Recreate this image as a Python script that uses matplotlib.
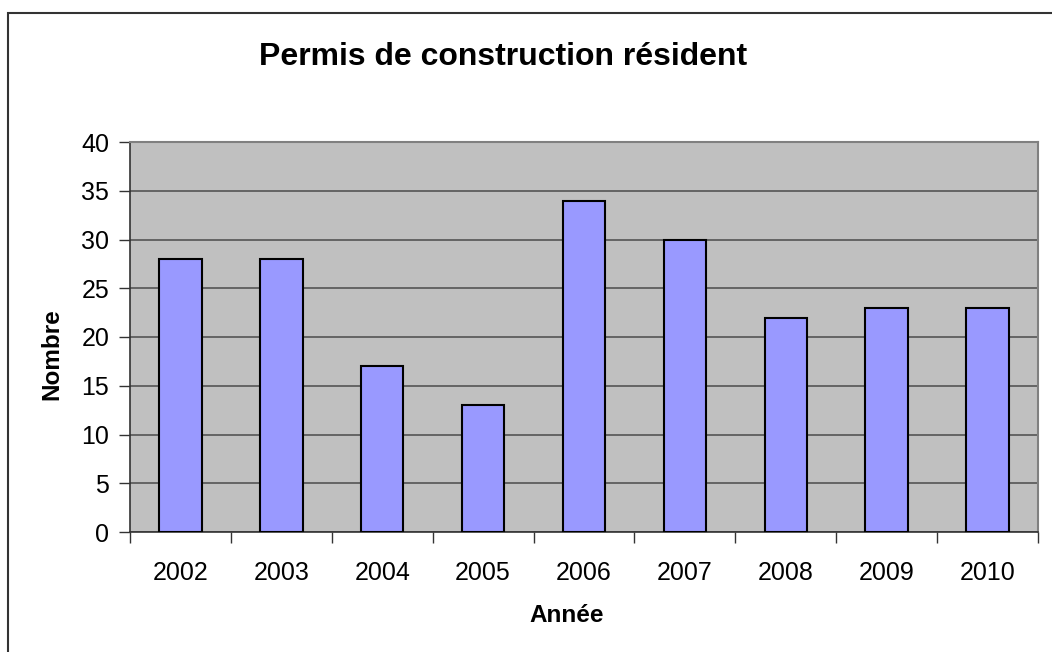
import matplotlib
matplotlib.use("Agg")
import matplotlib.pyplot as plt
from matplotlib.patches import Rectangle

years = ["2002", "2003", "2004", "2005", "2006", "2007", "2008", "2009", "2010"]
values = [28, 28, 17, 13, 34, 30, 22, 23, 23]
y_ticks = [0, 5, 10, 15, 20, 25, 30, 35, 40]

plt.rcParams['font.family'] = ['Liberation Sans', 'DejaVu Sans']

W, H = 1052, 652
fig = plt.figure(figsize=(W / 100, H / 100), dpi=100)
fig.patch.set_facecolor("white")

# outer chart border (left and top visible)
fig.add_artist(Rectangle((8 / W, -0.1), 1.2, (H - 13) / H + 0.1, transform=fig.transFigure,
                         fill=False, edgecolor="#333333", linewidth=1.5))

left, right, top, bottom = 130, 1038, 142, 532
ax = fig.add_axes([left / W, 1 - bottom / H, (right - left) / W, (bottom - top) / H])
ax.set_facecolor("#C0C0C0")

x = list(range(len(years)))
ax.bar(x, values, width=0.42, color="#9999FF", edgecolor="black", linewidth=1.5, zorder=3)

ax.set_xlim(-0.5, len(years) - 0.5)
ax.set_ylim(0, 40)
ax.set_yticks(y_ticks)
ax.set_yticklabels([str(v) for v in y_ticks], fontsize=18)
ax.yaxis.grid(True, color="#555555", linewidth=1.2, zorder=1)
ax.set_axisbelow(True)

ax.set_xticks(x)
ax.set_xticklabels(years, fontsize=18)
ax.tick_params(axis="x", length=0, pad=21)
ax.set_xticks([i - 0.5 for i in range(len(years) + 1)], minor=True)
ax.tick_params(axis="x", which="minor", length=8, width=1, color="#333333", direction="out")
ax.tick_params(axis="y", length=8, width=1, color="#333333", direction="out", pad=7)

for s in ["top", "right"]:
    ax.spines[s].set_color("#808080")
    ax.spines[s].set_linewidth(1.5)
for s in ["left", "bottom"]:
    ax.spines[s].set_color("#333333")
    ax.spines[s].set_linewidth(1.2)

fig.text(567 / W, 1 - 615 / H, "Année", fontsize=17.5, fontweight="bold",
         ha="center", va="center")
fig.text(52 / W, 1 - 354 / H, "Nombre", fontsize=17.5, fontweight="bold",
         ha="center", va="center", rotation=90)

fig.text(503 / W, 1 - 65 / H, "Permis de construction résident", fontsize=23,
         fontweight="bold", ha="center", va="baseline")

fig.savefig("out.png", dpi=100)
